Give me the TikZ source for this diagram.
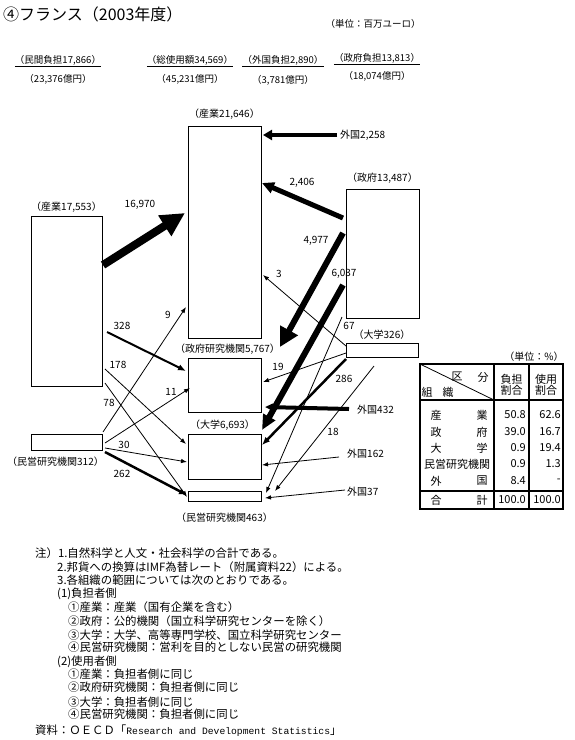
\documentclass[tikz,border=0pt]{standalone}
\usepackage{fontspec}
\setmainfont{Noto Sans CJK JP}
\newfontfamily\latinmono{Liberation Mono}
\usetikzlibrary{positioning, calc, arrows.meta}
\tikzset{
  box/.style={draw, line width=0.8pt, inner sep=0pt, outer sep=0pt, anchor=north west},
  boxlabel/.style={font=\fontsize{10}{12}\selectfont, inner sep=0pt},
  num/.style={font=\fontsize{10}{12}\selectfont, inner sep=0pt},
  head/.style={font=\fontsize{9.5}{11}\selectfont, inner sep=0pt},
  note/.style={font=\fontsize{11.4}{13}\selectfont, inner sep=0pt, anchor=base west},
  cell/.style={font=\fontsize{11}{13}\selectfont, inner sep=0pt},
  tabrule/.style={line width=1.4pt},
  flowthin/.style={line width=0.8pt, -{Latex[length=6pt,width=4.5pt]}},
  flowmid/.style={line width=2pt, -{Latex[length=8pt,width=6.5pt]}}
}

\begin{document}
\begin{tikzpicture}[x=1pt, y=-1pt]
  \useasboundingbox (0,0) rectangle (575,740);

  % title and units
  \node[font=\fontsize{16}{18}\selectfont, inner sep=0pt, anchor=west] (title) at (3,14) {④フランス（2003年度）};
  \node[head] (unit) at (373,24) {（単位：百万ユーロ）};

  % totals
  \node[head] (hPriv) at (58,60) {（民間負担17,866）};
  \node[head] (hTotal) at (190,60) {（総使用額34,569）};
  \node[head] (hFrn) at (283,60) {（外国負担2,890）};
  \node[head] (hGov) at (377,58) {（政府負担13,813）};
  \foreach \h in {hPriv, hTotal, hFrn, hGov}
    \draw[line width=0.8pt] ([yshift=-1pt]\h.south west) -- ([yshift=-1pt]\h.south east);
  \node[head] (yenPriv) at (58,79) {（23,376億円）};
  \node[head] (yenTotal) at (190,79) {（45,231億円）};
  \node[head] (yenFrn) at (283,80) {（3,781億円）};
  \node[head] (yenGov) at (377,76) {（18,074億円）};

  % sources
  \node[box, minimum width=71pt, minimum height=170pt] (srcInd) at (31,216) {};
  \node[box, minimum width=71pt, minimum height=16pt] (srcPriv) at (31,434) {};
  \node[box, minimum width=73pt, minimum height=129pt] (srcGov) at (346,189) {};
  \node[box, minimum width=72pt, minimum height=14pt] (srcUni) at (346,343) {};
  % users
  \node[box, minimum width=73pt, minimum height=212pt] (useInd) at (188,126) {};
  \node[box, minimum width=73pt, minimum height=54pt] (useGov) at (188,358) {};
  \node[box, minimum width=73pt, minimum height=45pt] (useUni) at (188,434) {};
  \node[box, minimum width=73pt, minimum height=10pt] (usePriv) at (188,491) {};

  \node[boxlabel, above=6pt of useInd] (useIndLab) {（産業21,646）};
  \node[boxlabel, above=3pt of useGov, xshift=3pt] (useGovLab) {（政府研究機関5,767）};
  \node[boxlabel, above=3pt of useUni, xshift=-2pt] (useUniLab) {（大学6,693）};
  \node[boxlabel, below=12pt of usePriv] (usePrivLab) {（民営研究機関463）};
  \node[boxlabel, above=3pt of srcInd] (srcIndLab) {（産業17,553）};
  \node[boxlabel, below=7pt of srcPriv, xshift=-11pt] (srcPrivLab) {（民営研究機関312）};
  \node[boxlabel, above=5pt of srcGov] (srcGovLab) {（政府13,487）};
  \node[boxlabel, above=3pt of srcUni] (srcUniLab) {（大学326）};

  \node[num, anchor=west] (frnInd) at (340,135) {外国2,258};
  \node[num, anchor=west] (frnGov) at (357,410) {外国432};
  \node[num, anchor=west] (frnUni) at (347,454) {外国162};
  \node[num, anchor=west] (frnPriv) at (347,492) {外国37};
  \coordinate (gov67) at ($(srcGov.south west)+(-4,-1)$);
  \coordinate (uni18) at ($(srcUni.south west)+(28,9)$);

  % flows
  \draw[line width=8pt, -{Triangle[length=24pt,width=23pt]}] ($(srcInd.north east)+(1,49)$) -- ($(useInd.north west)+(-3,87)$);
  \draw[line width=4.5pt, -{Triangle[length=9pt,width=10pt]}] ([xshift=-3pt]frnInd.west) -- ($(useInd.north east)+(2,9)$);
  \draw[line width=5pt, -{Triangle[length=12pt,width=11pt]}] ($(srcGov.north west)+(-3,29)$) -- ($(useInd.north east)+(1,57)$);
  \draw[line width=6pt, -{Triangle[length=19pt,width=19pt]}] ($(srcGov.north west)+(-3,44)$) -- ($(useGov.north east)+(19,-11)$);
  \draw[line width=6pt, -{Triangle[length=15pt,width=13pt]}] ($(srcGov.north west)+(-3,96)$) -- ($(useUni.north east)+(1,-4)$);
  \draw[flowthin] (gov67) -- ($(usePriv.north east)+(5,2)$);
  \draw[flowthin] ($(srcUni.north west)+(0,3)$) -- ($(useInd.north east)+(2,149)$);
  \draw[flowthin] ($(srcUni.north west)+(0,10)$) -- ($(useGov.north east)+(2,24)$);
  \draw[flowmid, line width=2.5pt] ($(srcUni.south west)+(0,2)$) -- ($(useUni.north east)+(1,11)$);
  \draw[flowthin] (uni18) -- ($(usePriv.north east)+(14,0)$);
  \draw[line width=4pt, -{Triangle[length=8pt,width=7pt]}] ([xshift=-8pt,yshift=1pt]frnGov.west) -- ($(useGov.south east)+(4,-5)$);
  \draw[flowthin] ([xshift=-8pt,yshift=-3pt]frnUni.west) -- ($(useUni.north east)+(1,31)$);
  \draw[flowthin] ([xshift=-2pt,yshift=2pt]frnPriv.west) -- ($(usePriv.north east)+(4,7)$);
  \draw[flowmid] ($(srcInd.north east)+(5,116)$) -- ($(useGov.north west)+(-2,13)$);
  \draw[flowthin] ($(srcInd.north east)+(3,153)$) -- ($(useUni.north west)+(-2,10)$);
  \draw[flowthin] ($(srcInd.north east)+(3,167)$) -- ($(usePriv.north west)+(-1,6)$);
  \draw[flowthin] ($(srcPriv.north east)+(1,-2)$) -- ($(useInd.south west)+(-2,-31)$);
  \draw[flowthin] ($(srcPriv.north east)+(3,9)$) -- ($(useGov.north west)+(2,30)$);
  \draw[flowthin] ($(srcPriv.north east)+(3,14)$) -- ($(useUni.north west)+(-1,28)$);
  \draw[flowmid, line width=2.5pt] ($(srcPriv.north east)+(3,18)$) -- ($(usePriv.north west)+(-1,4)$);

  % flow values
  \node[num] (lab16970) at (140,205) {16,970};
  \node[num] (lab2406) at (302,183) {2,406};
  \node[num] (lab4977) at (316,241) {4,977};
  \node[num] (lab6037) at (344,274) {6,037};
  \node[num] (lab3) at (279,274) {3};
  \node[num] (lab19) at (278,367) {19};
  \node[num] (lab286) at (344,379) {286};
  \node[num] (lab67) at (349,326) {67};
  \node[num] (lab18) at (333,432) {18};
  \node[num] (lab328) at (122,326) {328};
  \node[num] (lab178) at (118,365) {178};
  \node[num] (lab78) at (109,403) {78};
  \node[num] (lab9) at (168,315) {9};
  \node[num] (lab11) at (171,392) {11};
  \node[num] (lab30) at (124,445) {30};
  \node[num] (lab262) at (122,474) {262};

  % share table
  \node[boxlabel] (tabUnit) at (534,357) {（単位：\%）};
  \draw[tabrule] (420,364) rectangle (563,509);
  \draw[tabrule] (494,364) -- (494,509);
  \draw[tabrule] (529,364) -- (529,509);
  \draw[tabrule] (420,400) -- (563,400);
  \draw[tabrule] (420,491) -- (563,491);
  \draw[line width=0.8pt] (420,364) -- (494,400);
  \node[cell] (hdKu) at (457,377) {区};
  \node[cell] (hdBun) at (483,377) {分};
  \node[cell] (hdSo) at (427,392) {組};
  \node[cell] (hdShiki) at (448,392) {織};
  \node[cell, align=center] (hdFutan) at (511.5,385) {負担\\[-2pt]割合};
  \node[cell, align=center] (hdShiyo) at (546,385) {使用\\[-2pt]割合};
  \foreach \y/\a/\b/\p/\q in {415/産/業/50.8/62.6, 432/政/府/39.0/16.7, 448/大/学/0.9/19.4, 481/外/国/8.4/-, 500/合/計/100.0/100.0} {
    \node[cell] at (436,\y) {\a};
    \node[cell] at (482,\y) {\b};
    \node[cell, anchor=east] at (526,\y) {\p};
    \node[cell, anchor=east] at (561,\y) {\q};
  }
  \node[cell] (rowPriv) at (457,464) {民営研究機関};
  \node[cell, anchor=east] (rowPrivF) at (526,464) {0.9};
  \node[cell, anchor=east] (rowPrivU) at (561,464) {1.3};

  % notes
  \node[note] (n1) at (35,557.5) {注）1.自然科学と人文・社会科学の合計である。};
  \node[note] (n2) at (57,571.5) {2.邦貨への換算はIMF為替レート（附属資料22）による。};
  \node[note] (n3) at (57,584.5) {3.各組織の範囲については次のとおりである。};
  \node[note] (n4) at (57,597.5) {(1)負担者側};
  \node[note] (n5) at (68,611.5) {①産業：産業（国有企業を含む）};
  \node[note] (n6) at (68,625.5) {②政府：公的機関（国立科学研究センターを除く）};
  \node[note] (n7) at (68,639) {③大学：大学、高等専門学校、国立科学研究センター};
  \node[note] (n8) at (68,651.5) {④民営研究機関：営利を目的としない民営の研究機関};
  \node[note] (n9) at (57,665.5) {(2)使用者側};
  \node[note] (n10) at (68,678.5) {①産業：負担者側に同じ};
  \node[note] (n11) at (68,691.5) {②政府研究機関：負担者側に同じ};
  \node[note] (n12) at (68,706) {③大学：負担者側に同じ};
  \node[note] (n13) at (68,718.5) {④民営研究機関：負担者側に同じ};
  \node[note] (n14) at (35,734.5) {資料：ＯＥＣＤ「{\latinmono\fontsize{9.7}{12}\selectfont Research and Development Statistics}」};
\end{tikzpicture}
\end{document}
